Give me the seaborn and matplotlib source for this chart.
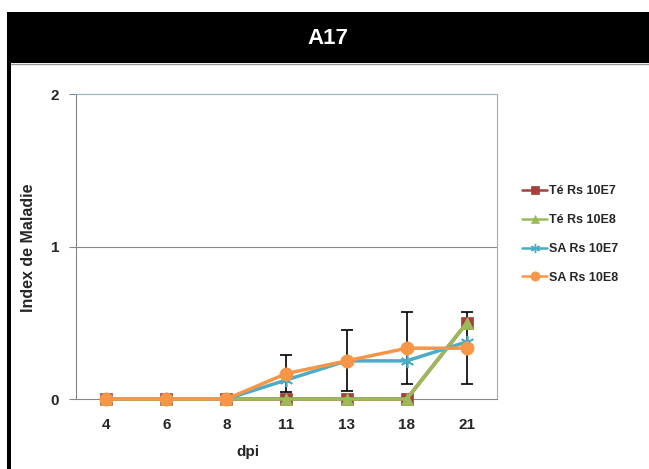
import matplotlib
matplotlib.use("Agg")
import matplotlib.pyplot as plt
from matplotlib.patches import Rectangle
from matplotlib.lines import Line2D
import seaborn as sns
import pandas as pd
import numpy as np

dpi_labels = ["4", "6", "8", "11", "13", "18", "21"]
te_rs_10e7 = [0, 0, 0, 0, 0, 0, 0.5]
te_rs_10e8 = [0, 0, 0, 0, 0, 0, 0.5]
sa_rs_10e7 = [0, 0, 0, 0.125, 0.25, 0.25, 0.375]
sa_rs_10e8 = [0, 0, 0, 0.167, 0.25, 0.333, 0.333]
sa_rs_10e8_err = [0, 0, 0, 0.12, 0.2, 0.235, 0.235]
series_names = ["Té Rs 10E7", "Té Rs 10E8", "SA Rs 10E7", "SA Rs 10E8"]

sns.set_theme(style="white")
plt.rcParams['font.family'] = ['Liberation Sans', 'DejaVu Sans']

colors = {"Té Rs 10E7": "#A5403D", "Té Rs 10E8": "#9BBB59",
          "SA Rs 10E7": "#4BACC6", "SA Rs 10E8": "#F79646"}
markers = {"Té Rs 10E7": "s", "Té Rs 10E8": "^",
           "SA Rs 10E7": (6, 2, 0), "SA Rs 10E8": "o"}
msize = {"Té Rs 10E7": 9, "Té Rs 10E8": 8.5, "SA Rs 10E7": 9.5, "SA Rs 10E8": 9.5}

rows = []
for name, vals in zip(series_names, [te_rs_10e7, te_rs_10e8, sa_rs_10e7, sa_rs_10e8]):
    for i, v in enumerate(vals):
        rows.append({"x": i, "dpi": dpi_labels[i], "value": v, "series": name})
df = pd.DataFrame(rows)

fig = plt.figure(figsize=(6.49, 4.69), dpi=100)
fig.patch.set_facecolor("white")

# header band and left border
fig.add_artist(Rectangle((7/649, 1 - 63/469), 1 - 7/649, 51/469,
                         transform=fig.transFigure, facecolor="black", edgecolor="none"))
fig.add_artist(Rectangle((7/649, 0), 4/649, 1 - 12/469,
                         transform=fig.transFigure, facecolor="black", edgecolor="none"))
fig.add_artist(Line2D([11/649, 1], [1 - 64/469, 1 - 64/469], transform=fig.transFigure,
                      color="#999999", lw=1))
fig.text(0.505, 1 - 38/469, "A17", color="white", fontsize=16, fontweight="bold",
         ha="center", va="center")

ax = fig.add_axes([76/649, 70/469, (497-76)/649, (399-94)/469])

# error bars (under the lines)
x_idx = np.arange(len(dpi_labels))
ax.errorbar(x_idx, sa_rs_10e8, yerr=sa_rs_10e8_err, fmt="none", ecolor="black",
            elinewidth=1.2, capsize=4, capthick=1.2, zorder=1, clip_on=False)

for name in series_names:
    sub = df[df["series"] == name]
    sns.lineplot(data=sub, x="x", y="value", ax=ax, color=colors[name],
                 marker=markers[name], markersize=msize[name],
                 markeredgecolor=colors[name],
                 markeredgewidth=1.2 if name == "SA Rs 10E7" else 0.5,
                 linewidth=2.5, label=name, legend=False, clip_on=False, zorder=3)

ax.set_xlim(-0.5, len(dpi_labels) - 0.5)
ax.set_ylim(0, 2)
ax.set_yticks([0, 1, 2])
ax.set_yticklabels(["0", "1", "2"], fontsize=11, fontweight="bold")
ax.set_xticks(x_idx)
ax.set_xticklabels(dpi_labels, fontsize=11, fontweight="bold")
ax.set_xticks(np.arange(-0.5, len(dpi_labels), 1), minor=True)
ax.tick_params(axis="x", which="major", length=0, pad=14)
ax.tick_params(axis="x", which="minor", length=6, direction="inout", color="#868686", width=0.8)
ax.tick_params(axis="y", which="major", length=5, direction="out", color="#868686",
               width=0.8, left=True, pad=7)
ax.axhline(1, color="#868686", lw=0.8, zorder=0)
ax.grid(False)
ax.set_xlabel("dpi", fontsize=11, fontweight="bold")
ax.xaxis.set_label_coords((248 - 76) / (497 - 76), -(445 - 399) / (399 - 94))
ax.set_ylabel("Index de Maladie", fontsize=11.5, fontweight="bold")
ax.yaxis.set_label_coords(-(76 - 36) / (497 - 76), (399 - 248) / (399 - 94))

for s in ["left", "bottom"]:
    ax.spines[s].set_color("#868686")
    ax.spines[s].set_linewidth(0.8)
for s in ["top", "right"]:
    ax.spines[s].set_color("#8CB4CC")
    ax.spines[s].set_linewidth(0.8)
ax.set_facecolor("white")

handles = [Line2D([0], [0], color=colors[n], marker=markers[n], markersize=msize[n] * 0.7,
                  markeredgewidth=1.0 if n == "SA Rs 10E7" else 0.5,
                  markeredgecolor=colors[n], lw=1.8) for n in series_names]
leg = fig.legend(handles, series_names, loc="upper left",
                 bbox_to_anchor=(516/649, 1 - 179/469), frameon=False,
                 prop={"weight": "bold", "size": 9}, handlelength=2.0,
                 handletextpad=0.15, labelspacing=1.35, borderpad=0)

fig.savefig("out.png", dpi=100)
